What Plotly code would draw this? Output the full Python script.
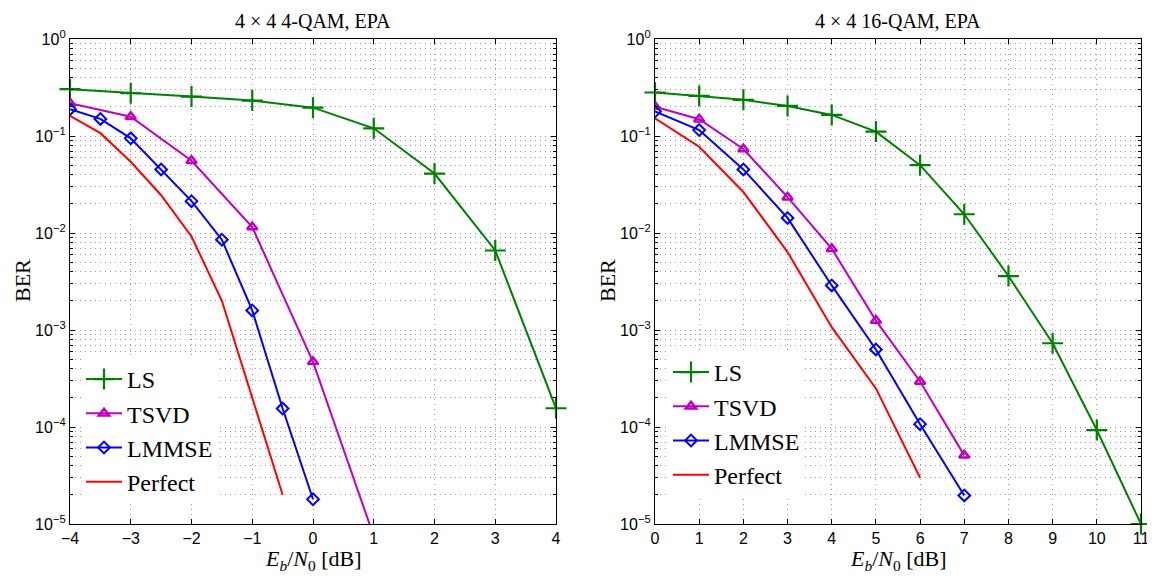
import plotly.graph_objects as go

# ---------------- data ----------------
titles = ["4 × 4 4-QAM, EPA", "4 × 4 16-QAM, EPA"]

# Left: 4-QAM
x4_ls = [-4, -3, -2, -1, 0, 1, 2, 3, 4]
ber4_ls = [0.304, 0.276, 0.255, 0.232, 0.196, 0.12, 0.041, 0.0066, 1.56e-4]
x4_tsvd = [-4, -3, -2, -1, 0, 1]
ber4_tsvd = [0.218, 0.158, 0.0556, 0.0115, 4.7e-4, 7.5e-6]
x4_lmmse = [-4, -3.5, -3, -2.5, -2, -1.5, -1, -0.5, 0]
ber4_lmmse = [0.189, 0.15, 0.0946, 0.0452, 0.0213, 0.00853, 0.00159, 1.55e-4, 1.8e-5]
x4_perf = [-4, -3.5, -3, -2.5, -2, -1.5, -1, -0.5]
ber4_perf = [0.161, 0.107, 0.0543, 0.0245, 0.0092, 0.0020, 2.0e-4, 2.0e-5]

# Right: 16-QAM
x16_ls = [0, 1, 2, 3, 4, 5, 6, 7, 8, 9, 10, 11]
ber16_ls = [0.281, 0.259, 0.236, 0.204, 0.165, 0.111, 0.050, 0.0156, 0.0036, 7.3e-4, 9.3e-5, 1.0e-5]
x16_tsvd = [0, 1, 2, 3, 4, 5, 6, 7]
ber16_tsvd = [0.201, 0.149, 0.0734, 0.0234, 0.00689, 0.00125, 2.95e-4, 5.1e-5]
x16_lmmse = [0, 1, 2, 3, 4, 5, 6, 7]
ber16_lmmse = [0.179, 0.115, 0.0452, 0.0143, 0.00288, 6.3e-4, 1.07e-4, 1.97e-5]
x16_perf = [0, 1, 2, 3, 4, 5, 6]
ber16_perf = [0.152, 0.0776, 0.0265, 0.00636, 0.00107, 2.5e-4, 3.0e-5]

series_names = ["LS", "TSVD", "LMMSE", "Perfect"]
x_ticks_left = [-4, -3, -2, -1, 0, 1, 2, 3, 4]
x_ticks_right = list(range(0, 12))
decades = [-5, -4, -3, -2, -1, 0]
x_title = "<i>E</i><sub><i>b</i></sub>/<i>N</i><sub>0</sub> [dB]"
y_title = "BER"

# ---------------- styling ----------------
OFF = 8                      # page body margin offset
W, H = 1155 - OFF, 576 - OFF
GREEN, MAGENTA, BLUE, RED = "#008000", "#BF00BF", "#0000FF", "#FF0000"
SERIF = '"Liberation Serif", "Times New Roman", serif'
SANS = '"Liberation Sans", Arial, sans-serif'
GRID = "#9a9a9a"

styles = {
    "LS": dict(color=GREEN, marker=dict(symbol="cross-thin", size=15,
                                        line=dict(color=GREEN, width=2.2))),
    "TSVD": dict(color=MAGENTA, marker=dict(symbol="triangle-up-open", size=9, color=MAGENTA,
                                            line=dict(color=MAGENTA, width=2.5))),
    "LMMSE": dict(color=BLUE, marker=dict(symbol="diamond-open", size=9, color=BLUE,
                                          line=dict(color=BLUE, width=2))),
    "Perfect": dict(color=RED, marker=None),
}

fig = go.Figure()

panels = [
    ("x", "y", "legend", [(x4_ls, ber4_ls), (x4_tsvd, ber4_tsvd), (x4_lmmse, ber4_lmmse), (x4_perf, ber4_perf)]),
    ("x2", "y2", "legend2", [(x16_ls, ber16_ls), (x16_tsvd, ber16_tsvd), (x16_lmmse, ber16_lmmse), (x16_perf, ber16_perf)]),
]

for xa, ya, lg, data in panels:
    for name, (xs, ys) in zip(series_names, data):
        st = styles[name]
        kw = dict(x=xs, y=ys, name=name, xaxis=xa, yaxis=ya, legend=lg,
                  line=dict(color=st["color"], width=2))
        if st["marker"] is not None:
            kw["mode"] = "lines+markers"
            kw["marker"] = st["marker"]
        else:
            kw["mode"] = "lines"
        if name == "LS":
            kw["cliponaxis"] = False
        fig.add_trace(go.Scatter(**kw))

# pixel-based positions (in window pixels)
def px_x(p):
    return (p - OFF) / W

def px_y(p):
    return 1 - (p - OFF) / H

top, bottom = 39, 524
left_dom = [px_x(70), px_x(556)]
right_dom = [px_x(655), px_x(1141)]
y_dom = [px_y(bottom), px_y(top)]

# y ticks: labelled decades, minor ticks/grid at 2..9
ymajor = [10.0 ** d for d in decades]
ymajor_text = ["10<sup>" + str(d).replace("-", "−") + "</sup>" for d in decades]
yminor = [m * 10.0 ** d for d in decades[:-1] for m in range(2, 10)]

common_axis = dict(showline=True, linecolor="black", linewidth=1.3, mirror="ticks",
                   ticks="inside", ticklen=5, tickcolor="black", tickwidth=1,
                   showgrid=True, gridcolor=GRID, griddash="1px,4px", gridwidth=1,
                   zeroline=False, automargin=False,
                   tickfont=dict(family=SANS, size=16, color="black"))

def xaxis(dom, rng, ticks, anchor):
    return dict(common_axis, domain=dom, range=rng, tickvals=ticks,
                ticktext=[str(t).replace("-", "−") for t in ticks], anchor=anchor)

def yaxis(anchor):
    return dict(common_axis, type="log", domain=y_dom, range=[-5, 0], tickvals=ymajor,
                ticktext=ymajor_text, anchor=anchor,
                minor=dict(tickvals=yminor, ticks="inside", ticklen=3, tickcolor="black", tickwidth=1,
                           showgrid=True, gridcolor=GRID, griddash="1px,4px", gridwidth=1))

legend_common = dict(bgcolor="white", borderwidth=0, font=dict(family=SERIF, size=24, color="black"),
                     xanchor="left", yanchor="top", itemwidth=36, tracegroupgap=0)

annotations = []
for dom, t in zip([left_dom, right_dom], titles):
    cx = (dom[0] + dom[1]) / 2
    annotations.append(dict(text=t, x=cx, y=px_y(21), xref="paper", yref="paper", showarrow=False,
                            font=dict(family=SERIF, size=20, color="black"),
                            xanchor="center", yanchor="middle"))
    annotations.append(dict(text=x_title, x=cx, y=px_y(560), xref="paper", yref="paper", showarrow=False,
                            font=dict(family=SERIF, size=22, color="black"),
                            xanchor="center", yanchor="middle"))
for xp in [22, 607]:
    annotations.append(dict(text=y_title, x=px_x(xp), y=px_y(281), xref="paper", yref="paper",
                            showarrow=False, textangle=-90, xanchor="center", yanchor="middle",
                            font=dict(family=SERIF, size=22, color="black")))

fig.update_layout(
    width=W, height=H,
    margin=dict(l=0, r=0, t=0, b=0, autoexpand=False),
    paper_bgcolor="white", plot_bgcolor="white",
    xaxis=xaxis(left_dom, [-4, 4], x_ticks_left, "y"),
    yaxis=yaxis("x"),
    xaxis2=xaxis(right_dom, [0, 11], x_ticks_right, "y2"),
    yaxis2=yaxis("x2"),
    legend=dict(legend_common, x=px_x(81), y=px_y(357)),
    legend2=dict(legend_common, x=px_x(668), y=px_y(350)),
    annotations=annotations,
    showlegend=True,
)

fig.write_html("out.html")
